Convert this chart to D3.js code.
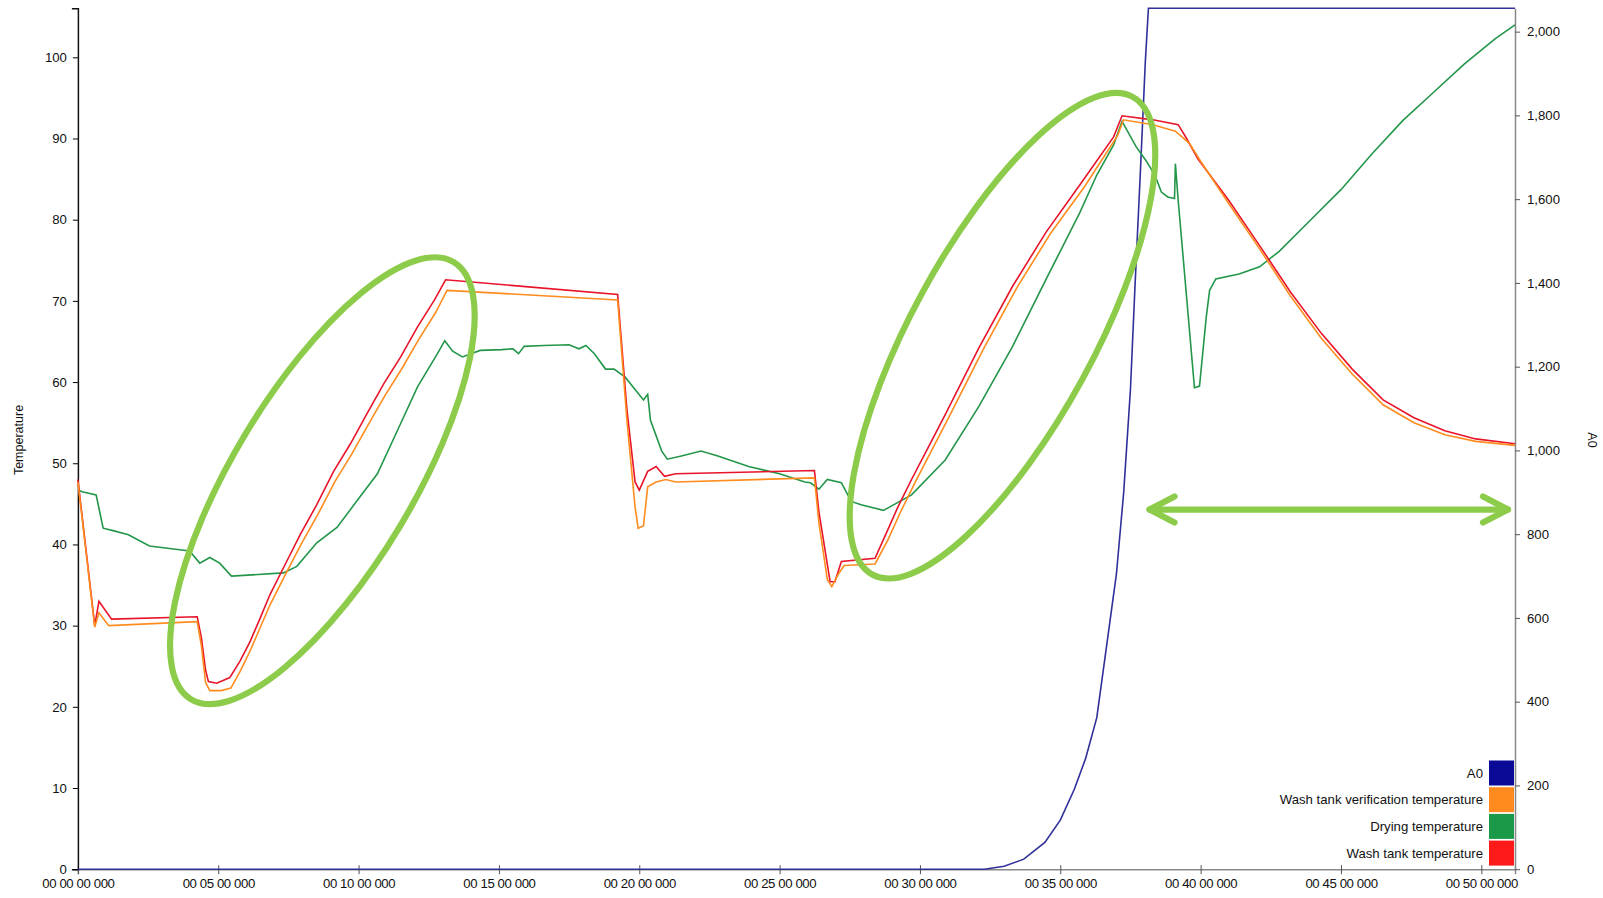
<!DOCTYPE html>
<html><head><meta charset="utf-8">
<script src="https://cdn.jsdelivr.net/npm/d3@7"></script>
<style>
html,body{margin:0;padding:0;background:#fff;}
svg{display:block;font-family:"Liberation Sans",Arial,sans-serif;}
</style></head>
<body>
<svg id="chart" width="1603" height="898"></svg>
<script>
// ---- data (time in minutes) ----
const xTicks = [0,5,10,15,20,25,30,35,40,45,50];
const tempTicks = [0,10,20,30,40,50,60,70,80,90,100];
const a0Ticks = [0,200,400,600,800,1000,1200,1400,1600,1800,2000];

const washTime = [0,0.6,0.75,1.2,4.25,4.4,4.55,4.65,4.95,5.15,5.41,5.77,6.13,6.49,6.84,7.32,7.92,8.51,9.11,9.71,10.3,10.9,11.5,12.1,12.7,13.1,19.23,19.56,19.85,20.0,20.3,20.6,20.9,21.3,26.24,26.4,26.8,26.97,27.2,28.4,28.75,29.2,29.7,30.3,30.9,32.1,33.3,34.5,35.7,36.9,37.2,38.3,39.2,39.5,39.9,41.0,42.1,43.2,44.3,45.4,46.5,47.6,48.7,49.8,51.2];
const washTemp = [48,30,33,30.8,31.1,28.5,24.5,23.1,22.9,23.2,23.6,25.6,28.0,30.9,33.8,37.1,41.2,44.9,49.0,52.4,56.1,59.8,63.1,66.8,70.1,72.6,70.8,56.6,47.7,46.7,49,49.6,48.4,48.7,49.1,44,35.4,35.4,37.9,38.3,41,44.5,48,52,56,64.2,71.8,78.5,84.3,90.2,92.8,92.3,91.7,90,87.5,82.4,76.8,71.1,66,61.6,57.8,55.6,54,53,52.4];

const verifTime = [0,0.6,0.75,1.1,4.25,4.4,4.55,4.7,5.1,5.45,5.8,6.15,6.5,6.85,7.35,7.95,8.55,9.15,9.75,10.35,10.95,11.55,12.15,12.75,13.15,19.23,19.56,19.85,19.96,20.15,20.3,20.6,20.95,21.3,26.24,26.4,26.7,26.86,27.1,27.3,28.4,28.85,29.35,29.85,30.45,31.05,32.25,33.45,34.65,35.85,37.05,37.25,38.3,39.1,39.6,40.0,41.0,42.1,43.2,44.3,45.4,46.5,47.6,48.7,49.8,51.2];
const verifTemp = [47.7,29.8,31.6,30,30.5,27.5,23.0,22.0,22.0,22.3,24.5,27.0,29.8,32.6,36.0,40.0,43.7,47.7,51.1,54.8,58.4,61.7,65.3,68.6,71.3,70.1,55.3,44.6,42,42.3,47.1,47.7,48,47.7,48.2,42.7,35.7,34.8,36.4,37.4,37.6,40.5,44.3,47.8,51.8,55.8,64,71.6,78.3,84.0,90.4,92.3,91.7,90.9,89.4,87.2,82,76.4,70.6,65.4,61,57.2,55,53.5,52.7,52.2];

const dryTime = [0,0.15,0.65,0.9,1.25,1.8,2.55,3.98,4.34,4.7,5.05,5.47,7.32,7.8,8.51,9.23,9.95,10.67,11.38,12.1,12.81,13.07,13.35,13.7,14.33,15.1,15.5,15.7,15.9,16.6,17.5,17.85,18.1,18.4,18.8,19.1,19.5,19.85,20.15,20.3,20.4,20.8,21.0,21.5,22.2,22.8,23.9,25.0,25.9,26.1,26.4,26.7,27.2,27.55,27.9,28.7,29.7,30.9,32.1,33.3,34.5,35.7,36.3,36.9,37.2,37.3,37.7,38.05,38.37,38.6,38.83,39.07,39.1,39.2,39.78,39.96,40.2,40.32,40.54,41.37,42.1,42.8,43.9,45.0,46.1,47.2,48.3,49.4,50.5,51.2];
const dryTemp = [46.7,46.5,46.1,42,41.7,41.2,39.8,39.2,37.7,38.4,37.7,36.1,36.5,37.3,40.2,42.1,45.4,48.7,54.0,59.4,63.5,65.1,63.8,63.1,63.9,64,64.1,63.5,64.4,64.5,64.6,64.1,64.5,63.5,61.6,61.6,60.6,59.1,57.8,58.5,55.3,51.5,50.5,50.9,51.5,50.9,49.6,48.7,47.7,47.6,46.8,48.0,47.6,45.3,44.9,44.2,46.1,50.4,57.0,64.4,72.7,80.9,85.5,89.2,92.1,91.5,89.0,87.3,85.5,83.4,82.8,82.6,86.9,82.4,59.3,59.5,68,71.3,72.7,73.3,74.2,76.1,79.9,83.7,88.1,92.2,95.7,99.2,102.3,104];

const a0Time = [0,32.3,33.0,33.7,34.45,35.0,35.5,35.9,36.3,36.6,37.0,37.26,37.5,37.66,37.85,38.03,38.14,51.2];
const a0Value = [0,0,7,24,64,117,191,264,362,509,705,901,1146,1390,1660,1929,2056,2056];

const seriesNames = ["A0","Wash tank verification temperature","Drying temperature","Wash tank temperature"];
const seriesColors = ["#0a0a96","#ff8a1e","#1a9a48","#ff1a1a"];
const lineColors = {a0:"#30309a", verif:"#ff8c1e", dry:"#23964a", wash:"#e8142a"};

// annotations: ellipse centres in data units [t, T], radii (px) and tilt (deg)
const ellipseCentres = [[8.71,47.85],[32.94,65.71]];
const ellipseRadii = [[255,90],[272,91]];
const ellipseTilt = [-59,-61.4];
const arrowSpan = [38.18,50.95,44.3];

// ---- layout ----
const svg = d3.select("#chart");
const L = 77.9, R = 1515, T = 8.2, B = 869.2;
const x = d3.scaleLinear().domain([0,51.2]).range([L,R]);
const yT = d3.scaleLinear().domain([0,106.05]).range([B,T]);
const yA = d3.scaleLinear().domain([0,2056]).range([B,T]);
const pad = n => String(n).padStart(2,"0");
const fmtTime = m => "00 " + pad(m) + " 00 000";
const fontSize = "13.2px";

// axes
const gx = svg.append("g").attr("transform",`translate(0,${B})`)
  .call(d3.axisBottom(x).tickValues(xTicks).tickFormat(fmtTime).tickSizeInner(5).tickSizeOuter(5).tickPadding(4));
gx.select(".domain").attr("stroke","#888").attr("stroke-width",1.5);
gx.selectAll(".tick line").attr("stroke","#555").attr("y1",-4);
gx.selectAll("text").attr("font-size",fontSize).attr("fill","#111").attr("letter-spacing","-0.4px");

const gl = svg.append("g").attr("transform",`translate(${L},0)`)
  .call(d3.axisLeft(yT).tickValues(tempTicks).tickSizeInner(5).tickSizeOuter(6).tickPadding(6));
gl.select(".domain").attr("stroke","#111").attr("stroke-width",1.5);
gl.selectAll("text").attr("font-size",fontSize).attr("fill","#111");

const gr = svg.append("g").attr("transform",`translate(${R},0)`)
  .call(d3.axisRight(yA).tickValues(a0Ticks).tickFormat(d3.format(",")).tickSizeInner(5).tickSizeOuter(0).tickPadding(7));
gr.select(".domain").attr("stroke","#888").attr("stroke-width",1.5);
gr.selectAll(".tick line").attr("stroke","#555");
gr.selectAll("text").attr("font-size",fontSize).attr("fill","#111");

svg.append("text").attr("transform",`translate(23,${440}) rotate(-90)`).attr("text-anchor","middle")
  .attr("font-size","12.5px").attr("fill","#111").text("Temperature");
svg.append("text").attr("transform",`translate(1588,${440}) rotate(90)`).attr("text-anchor","middle")
  .attr("font-size","12.5px").attr("fill","#111").text("A0");

// lines
const lineT = (ts) => d3.line().x((d,i)=>x(ts[i])).y(d=>yT(d));
const lineA = d3.line().x((d,i)=>x(a0Time[i])).y(d=>yA(d));
const plot = svg.append("g");
plot.append("path").datum(a0Value).attr("d",lineA).attr("fill","none").attr("stroke",lineColors.a0).attr("stroke-width",1.6);
plot.append("path").datum(dryTemp).attr("d",lineT(dryTime)).attr("fill","none").attr("stroke",lineColors.dry).attr("stroke-width",1.6);
plot.append("path").datum(washTemp).attr("d",lineT(washTime)).attr("fill","none").attr("stroke",lineColors.wash).attr("stroke-width",1.6);
plot.append("path").datum(verifTemp).attr("d",lineT(verifTime)).attr("fill","none").attr("stroke",lineColors.verif).attr("stroke-width",1.6);

// legend
const lg = svg.append("g");
seriesNames.forEach((n,i)=>{
  const yy = 760.5 + i*26.7;
  lg.append("rect").attr("x",R-26).attr("y",yy).attr("width",25).attr("height",25).attr("fill",seriesColors[i]);
  lg.append("text").attr("x",R-32).attr("y",yy+17).attr("text-anchor","end").attr("font-size",fontSize).attr("fill","#111").text(n);
});

// annotations
const green = "#8ccc4a";
ellipseCentres.forEach((c,i)=>{
  const cx=x(c[0]), cy=yT(c[1]);
  svg.append("ellipse").attr("cx",cx).attr("cy",cy).attr("rx",ellipseRadii[i][0]).attr("ry",ellipseRadii[i][1])
    .attr("transform",`rotate(${ellipseTilt[i]},${cx},${cy})`).attr("fill","none").attr("stroke",green).attr("stroke-width",6.2);
});
const ax1=x(arrowSpan[0]), ax2=x(arrowSpan[1]), ay=yT(arrowSpan[2]);
const ag = svg.append("g").attr("stroke",green).attr("stroke-width",6.2).attr("stroke-linecap","round").attr("fill","none");
ag.append("line").attr("x1",ax1).attr("y1",ay).attr("x2",ax2).attr("y2",ay);
ag.append("path").attr("d",`M${ax1+25},${ay-13}L${ax1},${ay}L${ax1+25},${ay+13}`).attr("stroke-linejoin","round");
ag.append("path").attr("d",`M${ax2-25},${ay-13}L${ax2},${ay}L${ax2-25},${ay+13}`).attr("stroke-linejoin","round");
</script>
</body></html>
